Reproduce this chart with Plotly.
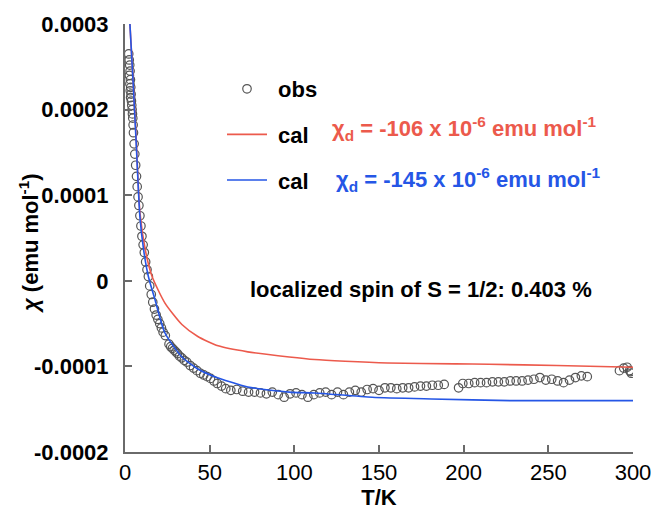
import plotly.graph_objects as go

# ---- data (chi in units of 1e-4 emu/mol) ----
T_obs = [2.2, 2.5, 2.8, 3.0, 2.6, 3.2, 2.9, 3.4, 3.1, 3.6, 3.3, 3.8, 4.0, 4.2, 4.4, 4.6, 4.8,
         5.0, 5.4, 5.8, 6.3, 6.8, 7.2, 7.7, 8.2, 8.8, 9.4, 10.0, 10.7, 11.4, 12.2, 13.0, 13.8,
         14.6, 15.5, 16.4, 17.4, 18.4, 19.4, 20.5, 21.5, 22.5, 23.8, 26.0, 27.0, 28.0, 29.0,
         30.0, 31.0, 32.2, 33.5, 35.0, 36.5, 38.5, 40.5, 42.5, 44.5, 46.5, 48.5, 50.5, 52.5,
         54.5, 57.0, 59.5, 62.5, 66.0, 69.5, 73.0, 76.5, 80.0, 83.5, 87.0, 90.5, 94.0, 97.5,
         101.0, 104.5, 108.0, 111.5, 115.0, 118.5, 122.0, 125.5, 129.0, 132.5, 136.0, 139.5,
         143.0, 146.5, 150.0, 153.5, 157.0, 160.5, 164.0, 167.5, 171.0, 174.5, 178.0, 181.5,
         185.0, 188.5, 197.0, 199.5, 203.0, 206.5, 210.0, 213.5, 217.0, 220.5, 224.0, 227.5,
         231.0, 234.5, 238.0, 241.5, 245.0, 248.5, 252.0, 255.5, 259.0, 262.5, 266.0, 269.5,
         273.0, 292.0, 294.5, 296.5, 298.0, 299.0, 298.5]
chi_obs_e4 = [2.65, 2.58, 2.52, 2.45, 2.40, 2.35, 2.30, 2.26, 2.22, 2.18, 2.14, 2.10, 2.05, 2.00, 1.95, 1.90, 1.82,
              1.73, 1.60, 1.48, 1.35, 1.22, 1.10, 0.98, 0.88, 0.76, 0.64, 0.52, 0.42, 0.33, 0.22, 0.13, 0.05,
              -0.06, -0.16, -0.25, -0.33, -0.40, -0.45, -0.50, -0.55, -0.60, -0.64, -0.74, -0.77, -0.79, -0.81,
              -0.83, -0.85, -0.88, -0.90, -0.93, -0.95, -0.99, -1.02, -1.05, -1.08, -1.10, -1.12, -1.14, -1.17,
              -1.20, -1.23, -1.26, -1.28, -1.27, -1.29, -1.30, -1.30, -1.31, -1.32, -1.30, -1.33, -1.36, -1.32,
              -1.31, -1.33, -1.36, -1.33, -1.31, -1.30, -1.33, -1.30, -1.33, -1.30, -1.28, -1.30,
              -1.27, -1.26, -1.28, -1.25, -1.25, -1.26, -1.25, -1.25, -1.24, -1.23, -1.23, -1.22,
              -1.22, -1.21, -1.25, -1.20, -1.20, -1.19, -1.19, -1.19, -1.18, -1.18, -1.18, -1.17,
              -1.17, -1.17, -1.16, -1.15, -1.13, -1.16, -1.15, -1.17, -1.19, -1.16, -1.13, -1.11,
              -1.12, -1.05, -1.02, -1.01, -1.05, -1.08, -1.06]

T_red = [2.9, 4.7, 6.5, 8.8, 12.0, 16.0, 23.6, 33.6, 43.0, 55.0, 72.5, 97.0, 112.0, 130.0,
         155.0, 195.0, 215.0, 255.0, 300.0]
chi_red_e4 = [3.0, 2.37, 1.70, 0.80, 0.36, 0.05, -0.26, -0.51, -0.65, -0.76, -0.83, -0.89, -0.92, -0.94,
              -0.96, -0.97, -0.975, -0.99, -1.01]

T_blue = [2.9, 4.7, 6.5, 8.8, 11.0, 13.8, 17.7, 23.6, 33.6, 43.0, 53.0, 72.5, 97.0, 112.0,
          146.0, 181.0, 228.0, 300.0]
chi_blue_e4 = [3.0, 2.35, 1.65, 0.75, 0.36, 0.05, -0.22, -0.61, -0.89, -1.03, -1.12, -1.24, -1.30, -1.31,
               -1.36, -1.38, -1.40, -1.40]

x_ticks = [0, 50, 100, 150, 200, 250, 300]
y_ticks = [-0.0002, -0.0001, 0, 0.0001, 0.0002, 0.0003]
y_ticktext = ["-0.0002", "-0.0001", "0", "0.0001", "0.0002", "0.0003"]

chi_obs = [v * 1e-4 for v in chi_obs_e4]
chi_red = [v * 1e-4 for v in chi_red_e4]
chi_blue = [v * 1e-4 for v in chi_blue_e4]

RED = "#ec5a4c"
BLUE = "#2556e6"
FONT = "Liberation Sans"
FS = 22

fig = go.Figure()
fig.add_trace(go.Scatter(
    x=T_obs, y=chi_obs, mode="markers", name="<b>&nbsp;obs</b>", legendgroup="a",
    marker=dict(symbol="circle-open", size=8.5, color="#555555", line=dict(width=1.2)),
))
fig.add_trace(go.Scatter(
    x=T_red, y=chi_red, mode="lines", name="<b>&nbsp;cal</b>", legendgroup="b",
    line=dict(color=RED, width=1.6, shape="spline", smoothing=0.6),
))
fig.add_trace(go.Scatter(
    x=T_blue, y=chi_blue, mode="lines", name="<b>&nbsp;cal</b>", legendgroup="c",
    line=dict(color=BLUE, width=1.6, shape="spline", smoothing=0.6),
))

L, R, TOP, B = 125, 21, 24, 59
W, H = 654, 511
pw, ph = W - L - R, H - TOP - B


def px(xp):
    return (xp - L) / pw


def py(yp):
    return (H - B - yp) / ph


fig.add_annotation(x=px(330), y=py(128), xref="paper", yref="paper", xanchor="left", yanchor="middle",
                   showarrow=False,
                   text="<b>χ<sub>d</sub> = -106 x 10<sup>-6</sup> emu mol<sup>-1</sup></b>",
                   font=dict(family=FONT, size=FS, color=RED))
fig.add_annotation(x=px(334), y=py(179), xref="paper", yref="paper", xanchor="left", yanchor="middle",
                   showarrow=False,
                   text="<b>χ<sub>d</sub> = -145 x 10<sup>-6</sup> emu mol<sup>-1</sup></b>",
                   font=dict(family=FONT, size=FS, color=BLUE))
fig.add_annotation(x=px(421), y=py(289), xref="paper", yref="paper", xanchor="center", yanchor="middle",
                   showarrow=False,
                   text="<b>localized spin of S = 1/2: 0.403 %</b>",
                   font=dict(family=FONT, size=FS, color="black"))
# y-axis title
fig.add_annotation(x=px(29), y=py(243), xref="paper", yref="paper", xanchor="center", yanchor="middle",
                   showarrow=False, textangle=-90,
                   text="<b><i>χ</i> (emu mol<sup>-1</sup>)</b>",
                   font=dict(family=FONT, size=FS, color="black"))

axis_common = dict(showline=True, linecolor="#6a6a6a", linewidth=2, ticks="inside", ticklen=7,
                   tickwidth=2, tickcolor="#6a6a6a", showgrid=False, zeroline=False, automargin=False,
                   tickfont=dict(family=FONT, size=FS, color="black"))

fig.update_layout(
    width=W, height=H,
    margin=dict(l=L, r=R, t=TOP, b=B),
    paper_bgcolor="white", plot_bgcolor="white",
    font=dict(family=FONT, size=FS, color="black"),
    xaxis=dict(range=[0, 300], tickvals=x_ticks,
               title=dict(text="<b>T/K</b>", standoff=0, font=dict(family=FONT, size=FS)),
               tickprefix="<b>", ticksuffix="</b>", **axis_common),
    yaxis=dict(range=[-0.0002, 0.0003], tickvals=y_ticks, ticktext=["<b>%s</b>" % t for t in y_ticktext],
               ticklabelstandoff=10, **axis_common),
    showlegend=True,
    legend=dict(x=px(222), y=py(68), xanchor="left", yanchor="top", bgcolor="rgba(0,0,0,0)",
                font=dict(family=FONT, size=FS, color="black"), tracegroupgap=14, itemwidth=40),
)

fig.write_html("out.html", config={"displayModeBar": False},
               post_script="document.body.style.margin='0';document.body.style.padding='0';")
